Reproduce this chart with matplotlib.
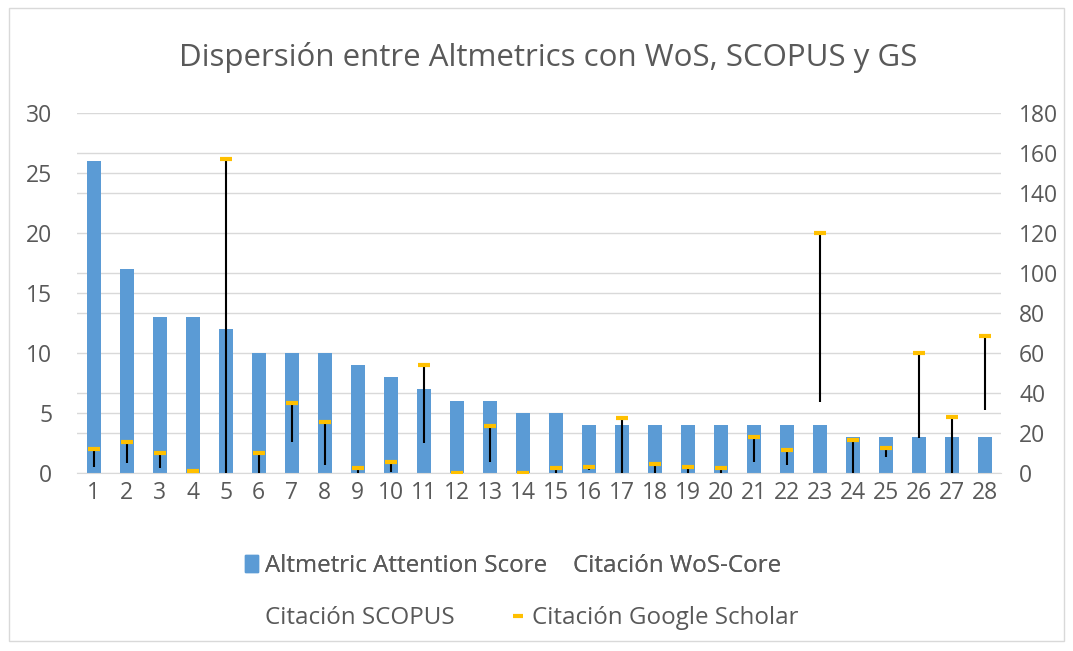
import numpy as np
import matplotlib.pyplot as plt
from matplotlib.patches import Patch, Rectangle
from matplotlib.lines import Line2D

plt.rcParams['font.family'] = ['Open Sans', 'DejaVu Sans']

# data
articles = list(range(1, 29))
altmetric = [26, 17, 13, 13, 12, 10, 10, 10, 9, 8, 7, 6, 6, 5, 5, 4, 4, 4, 4, 4, 4, 4, 4, 3, 3, 3, 3, 3]
wos = [3, 5, 2.5, 0, 0, 0, 15.5, 4, 0, 0.5, 15, 0, 5.5, 0, 0, 1.5, 0, 0, 0, 0, 5.5, 4, 35.5, 0, 8, 17.5, 0, 31.5]
scopus = [8, 10, 6, 0.5, 90, 5, 25, 15, 1, 3, 35, 0, 15, 0, 1, 2, 15, 2, 1.5, 1, 12, 8, 70, 9, 10, 40, 15, 50]
gs = [12, 15.5, 10, 1, 157, 10, 35, 25.5, 2.5, 5.5, 54, 0, 23.5, 0, 2.5, 3, 27.5, 4.5, 3, 2.5, 18, 11.5, 120, 16.5, 12.5, 60, 28, 68.5]

txt = '#595959'
blue = '#5B9BD5'
gold = '#FFC000'

fig = plt.figure(figsize=(10.73, 6.51), dpi=100)
fig.patches.append(Rectangle((0.008, 0.015), 0.984, 0.972, transform=fig.transFigure,
                             fill=False, edgecolor='#d9d9d9', lw=1))

ax = fig.add_axes([0.072, 0.2734, 0.861, 0.553])
ax.bar(articles, altmetric, width=0.42, color=blue, zorder=2)
ax.set_xlim(0.5, 28.5)
ax.set_ylim(0, 30)
ax.set_yticks(np.arange(0, 31, 5))
ax.set_yticks(np.arange(0, 30.1, 20 / 6), minor=True)
ax.grid(axis='y', which='both', color='#d9d9d9', lw=1, zorder=0)
ax.set_axisbelow(True)
ax.set_xticks(articles)
for s in ['top', 'left', 'right']:
    ax.spines[s].set_visible(False)
ax.spines['bottom'].set_color('#d9d9d9')
ax.tick_params(axis='both', which='both', length=0, labelsize=16.5, labelcolor=txt)
ax.tick_params(axis='y', pad=18)
ax.tick_params(axis='x', pad=6)

ax2 = ax.twinx()
ax2.set_ylim(0, 180)
ax2.set_yticks(np.arange(0, 181, 20))
ax2.tick_params(axis='y', length=0, labelsize=16.5, labelcolor=txt, pad=13)
for s in ax2.spines.values():
    s.set_visible(False)
lo = np.minimum(np.minimum(wos, scopus), gs)
hi = np.maximum(np.maximum(wos, scopus), gs)
ax2.vlines(articles, lo, hi, color='black', lw=1.5, zorder=3)
ax2.plot(articles, gs, ls='none', marker='_', ms=8, mew=3, color=gold, zorder=4)

fig.text(0.511, 0.911, 'Dispersión entre Altmetrics con WoS, SCOPUS y GS',
         ha='center', va='center', fontsize=22.5, color=txt)

# legend drawn as two rows, like Excel does
sq = Patch(color=blue)
blank = Line2D([], [], ls='none')
dash = Line2D([], [], ls='none', marker='_', ms=7, mew=3, color=gold)
leg_kw = dict(ncol=2, loc='center left', frameon=False, fontsize=17.4, labelcolor=txt,
              handlelength=0.55, handletextpad=0.3, borderpad=0, borderaxespad=0)
leg1 = fig.legend([sq, blank], ['Altmetric Attention Score', 'Citación WoS-Core'],
                  bbox_to_anchor=(0.228, 0.1306), columnspacing=0.2, **leg_kw)
fig.add_artist(leg1)
fig.legend([blank, dash], ['Citación SCOPUS', 'Citación Google Scholar'],
           bbox_to_anchor=(0.228, 0.0507), columnspacing=2.35, **leg_kw)

fig.savefig('out.png', dpi=100)
